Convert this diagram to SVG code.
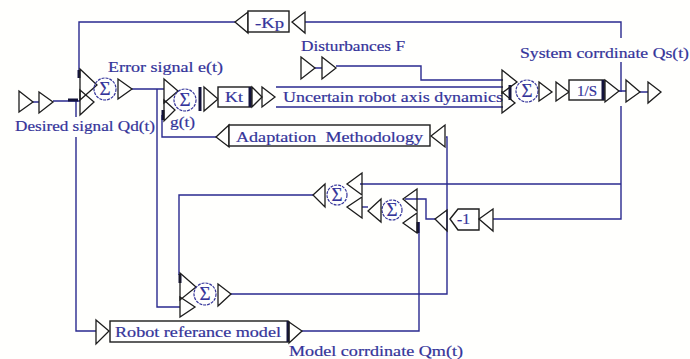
<svg xmlns="http://www.w3.org/2000/svg" width="690" height="359" viewBox="0 0 690 359">
<style>
text{font-family:"Liberation Serif","Times New Roman",serif;font-size:14.5px;fill:#34349a;stroke:#34349a;stroke-width:.2}
.w{fill:none;stroke:#2a2a8e;stroke-width:1.4}
.t{fill:none;stroke:#1c1c1c;stroke-width:1.3}
.b{fill:#fff;stroke:#1c1c1c;stroke-width:1.4}
.k{fill:none;stroke:#14143c;stroke-width:3}
.c{fill:none;stroke:#34349a;stroke-width:1.2;stroke-dasharray:3 1}
.s{font-size:19px;text-anchor:middle}
</style>
<rect width="690" height="359" fill="#fffffd"/>
<g id="connectors">
<path class="w" d="M79 70V22H235M305 22H621V38M621 62V92M621 106V219H493"/>
<path class="w" d="M33 102H39M53 101H80M76 101V117M76 137V331H96"/>
<path class="w" d="M132 89H164M157 89V307H180"/>
<path class="w" d="M162 115V137H216"/>
<path class="w" d="M315 68H322M336 66H421V80H503"/>
<path class="w" d="M276 87H503M276 107H503"/>
<path class="w" d="M619 91H626M640 92H648"/>
<path class="w" d="M446 137H447V294H231"/>
<path class="w" d="M179 275V195H313"/>
<path class="w" d="M360 184H621"/>
<path class="w" d="M302 331H419V222"/>
<path class="w" d="M435 219H426V199H405"/>
<path class="w" d="M362 207H368"/>
<path class="k" d="M79 70V78M68 100H78M163 110V120M510 85V100M418 222V233M180 274V283"/>
</g>
<g id="input">
<polygon class="t" points="19,91 33,102 19,112"/>
<polygon class="t" points="39,92 53,102 39,113"/>
</g>
<g id="sum1">
<polygon class="t" points="80,69 97,85 80,100"/>
<polygon class="t" points="80,90 94,102 80,115"/>
<circle class="c" cx="105" cy="89" r="11"/>
<text class="s" x="105" y="95">Σ</text>
<polygon class="t" points="118,79 132,89 118,99"/>
</g>
<g id="sum2">
<polygon class="t" points="164,79 178,91 164,103"/>
<polygon class="t" points="164,100 175,110 164,121"/>
<circle class="c" cx="185" cy="100" r="11"/>
<text class="s" x="185" y="106">Σ</text>
<path class="k" d="M200 87V111"/>
<polygon class="t" points="204,87 218,99 204,111"/>
</g>
<g id="kp">
<polygon class="t" points="235,22 248,12 248,33"/>
<rect class="b" x="248" y="11" width="41" height="21"/>
<text x="255" y="28" textLength="29" lengthAdjust="spacingAndGlyphs">-Kp</text>
<polygon class="t" points="292,22 305,12 305,33"/>
</g>
<g id="kt">
<rect class="b" x="218" y="87" width="33" height="20"/>
<path class="k" d="M250 87V107"/>
<text x="225" y="102" textLength="18" lengthAdjust="spacingAndGlyphs">Kt</text>
<polygon class="t" points="252,87 262,97 252,107"/>
<polygon class="t" points="262,87 275,97 262,107"/>
</g>
<g id="plant">
<text x="283" y="102" textLength="220" lengthAdjust="spacingAndGlyphs">Uncertain robot axis dynamics</text>
</g>
<g id="disturbance">
<polygon class="t" points="301,57 315,68 301,79"/>
<polygon class="t" points="322,57 336,68 322,79"/>
</g>
<g id="sum3">
<polygon class="t" points="502,70 517,82 502,93"/>
<polygon class="t" points="502,92 515,103 502,113"/>
<circle class="c" cx="527" cy="91" r="11"/>
<text class="s" x="527" y="97">Σ</text>
<polygon class="t" points="539,82 552,92 539,101"/>
<polygon class="t" points="556,82 569,92 556,101"/>
</g>
<g id="integrator">
<rect class="b" x="569" y="80" width="35" height="20"/>
<path class="k" d="M603 80V100"/>
<text x="577" y="96" textLength="20" lengthAdjust="spacingAndGlyphs">1/S</text>
<polygon class="t" points="605,80 619,91 605,102"/>
<polygon class="t" points="626,80 640,92 626,102"/>
<polygon class="t" points="648,82 661,92 648,103"/>
</g>
<g id="adaptation">
<polygon class="t" points="216,137 229,125 229,147"/>
<rect class="b" x="229" y="125" width="201" height="21"/>
<text x="236" y="142" textLength="187" lengthAdjust="spacingAndGlyphs" xml:space="preserve">Adaptation  Methodology</text>
<polygon class="t" points="431,136 445,125 445,147"/>
</g>
<g id="gain">
<polygon class="t" points="435,219 447,210 447,231"/>
<polygon class="b" points="450,219 458,209 479,209 479,230 458,230"/>
<text x="457" y="224" textLength="13" lengthAdjust="spacingAndGlyphs">-1</text>
<polygon class="t" points="479,219 493,209 493,231"/>
</g>
<g id="sum4">
<polygon class="t" points="417,189 403,199 417,211"/>
<polygon class="t" points="417,213 403,223 417,233"/>
<circle class="c" cx="392" cy="210" r="10"/>
<text class="s" x="392" y="216">Σ</text>
<polygon class="t" points="368,211 381,199 381,222"/>
</g>
<g id="sum5">
<polygon class="t" points="362,173 347,184 362,195"/>
<polygon class="t" points="362,197 347,207 362,218"/>
<circle class="c" cx="337" cy="195" r="10"/>
<text class="s" x="337" y="201">Σ</text>
<polygon class="t" points="313,195 325,184 325,207"/>
</g>
<g id="sum6">
<polygon class="t" points="180,273 196,287 180,300"/>
<polygon class="t" points="180,297 195,307 180,317"/>
<circle class="c" cx="205" cy="294" r="11"/>
<text class="s" x="205" y="300">Σ</text>
<polygon class="t" points="218,284 231,294 218,306"/>
</g>
<g id="model">
<polygon class="t" points="96,320 109,331 96,344"/>
<rect class="b" x="110" y="321" width="178" height="21"/>
<path class="k" d="M288 321V342"/>
<text x="115" y="337" textLength="166" lengthAdjust="spacingAndGlyphs">Robot referance model</text>
<polygon class="t" points="289,322 302,331 289,343"/>
</g>
<g id="labels">
<text x="108" y="72" textLength="115" lengthAdjust="spacingAndGlyphs">Error signal e(t)</text>
<text x="15" y="131" textLength="140" lengthAdjust="spacingAndGlyphs">Desired signal Qd(t)</text>
<text x="170" y="127" textLength="25" lengthAdjust="spacingAndGlyphs">g(t)</text>
<text x="301" y="51" textLength="104" lengthAdjust="spacingAndGlyphs">Disturbances F</text>
<text x="520" y="58" textLength="169" lengthAdjust="spacingAndGlyphs">System corrdinate Qs(t)</text>
<text x="289" y="356" textLength="174" lengthAdjust="spacingAndGlyphs">Model corrdinate Qm(t)</text>
</g>
</svg>
